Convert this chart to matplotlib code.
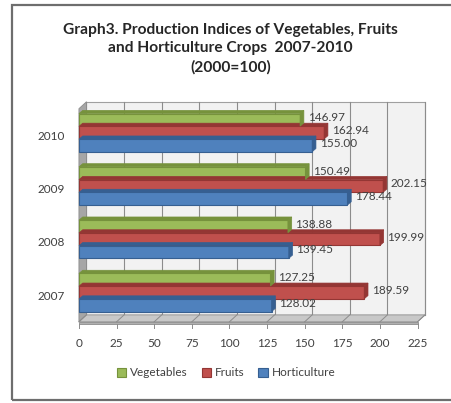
import numpy as np
import matplotlib.pyplot as plt
from matplotlib.patches import Polygon, Rectangle

years = ['2007', '2008', '2009', '2010']
vegetables = [127.25, 138.88, 150.49, 146.97]
fruits = [189.59, 199.99, 202.15, 162.94]
horticulture = [128.02, 139.45, 178.44, 155.00]

series = [('Vegetables', vegetables, '#9bbb59', '#76923c'),
          ('Fruits', fruits, '#c0504d', '#943634'),
          ('Horticulture', horticulture, '#4f81bd', '#365f91')]

plt.rcParams['font.family'] = ['Lato', 'DejaVu Sans']

fig = plt.figure(figsize=(4.52, 4.03), dpi=100)
ax = fig.add_axes([0.168, 0.1935, 0.779, 0.558])
ax.set_xlim(-2, 232)
ax.set_ylim(-0.56, 3.66)
for s in ax.spines.values():
    s.set_visible(False)
ax.patch.set_alpha(0)

# fake 3d box: back wall, left wall, floor
dx, dy = 5, 0.13
y0, y1 = -0.5, 3.5
ax.add_patch(Rectangle((dx, y0 + dy), 225, y1 - y0, fc='#f2f2f2', ec='#a0a0a0', lw=0.8, zorder=0))
ax.add_patch(Polygon([(0, y0), (dx, y0 + dy), (dx, y1 + dy), (0, y1)],
                     closed=True, fc='#a6a6a6', ec='#8c8c8c', lw=0.6, zorder=1))
ax.add_patch(Polygon([(0, y0), (225, y0), (225 + dx, y0 + dy), (dx, y0 + dy)],
                     closed=True, fc='#c8c8c8', ec='#8c8c8c', lw=0.6, zorder=1))
ax.add_patch(Rectangle((0, y0 - 0.05), 225, 0.05, fc='#b0b0b0', ec='#8c8c8c', lw=0.6, zorder=1))
ticks = np.arange(0, 226, 25)
for v in ticks:
    ax.plot([v + dx, v + dx], [y0 + dy, y1 + dy], color='#8c8c8c', lw=0.8, zorder=0.5)
    ax.plot([v, v + dx], [y0, y0 + dy], color='#8c8c8c', lw=0.7, zorder=1.5)
    ax.plot([v, v], [y0 - 0.05, y0 - 0.12], color='#8c8c8c', lw=0.7, zorder=1.5, clip_on=False)

y = np.arange(len(years))
h = 0.235
offsets = [0.29, 0.05, -0.19]
for (name, vals, fc, ec), off in zip(series, offsets):
    pos = y + off
    ax.barh(pos, vals, height=h, color=fc, edgecolor=ec, linewidth=0.8, label=name, zorder=3)
    for p, v in zip(pos, vals):
        # darker end face and top face to give the bars depth
        ax.add_patch(Polygon([(v, p - h / 2), (v + 2.5, p - h / 2 + 0.06),
                              (v + 2.5, p + h / 2 + 0.06), (v, p + h / 2)],
                             closed=True, fc=ec, ec=ec, lw=0.5, zorder=3.5))
        ax.add_patch(Polygon([(0, p + h / 2), (v, p + h / 2), (v + 2.5, p + h / 2 + 0.06),
                              (2.5, p + h / 2 + 0.06)],
                             closed=True, fc=ec, ec=ec, lw=0.5, zorder=3.4))
        ax.text(v + 5, p + 0.04, f'{v:.2f}', ha='left', va='center',
                fontsize=8.5, color='#404040', zorder=5)

ax.set_xticks(ticks)
ax.set_xticklabels([str(t) for t in ticks], fontsize=8.5, color='#404040')
ax.set_yticks(y)
ax.set_yticklabels(years, fontsize=8.5, color='#404040')
ax.tick_params(axis='x', length=0, pad=9)
ax.tick_params(axis='y', length=0, pad=8)

fig.text(0.51, 0.943, 'Graph3. Production Indices of Vegetables, Fruits\n'
         'and Horticulture Crops  2007-2010\n(2000=100)',
         ha='center', va='top', fontsize=11.2, fontweight='bold', color='#262626',
         linespacing=1.4)

handles, labels = ax.get_legend_handles_labels()
fig.legend(handles, labels, loc='center', bbox_to_anchor=(0.5, 0.075), ncol=3,
           frameon=False, fontsize=8.5, handlelength=0.8, handleheight=0.8,
           handletextpad=0.3, columnspacing=1.2, labelcolor='#404040')

# chart border
fig.add_artist(Rectangle((12 / 452, 3 / 403), 1.0, 395 / 403, transform=fig.transFigure,
                         fill=False, ec='#6e6e6e', lw=1.6))

fig.savefig('out.png', dpi=100)
